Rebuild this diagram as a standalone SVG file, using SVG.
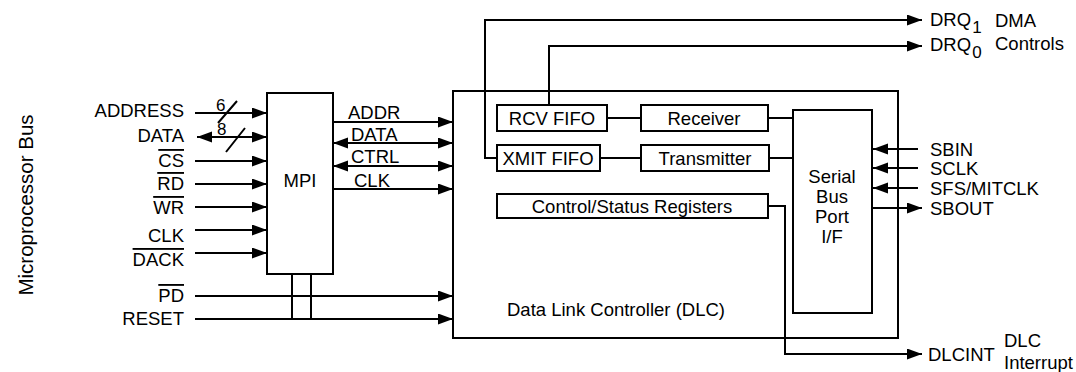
<svg xmlns="http://www.w3.org/2000/svg" width="1076" height="372" viewBox="0 0 1076 372">
<defs>
<marker id="ah" markerUnits="userSpaceOnUse" markerWidth="16" markerHeight="12" refX="15" refY="5.5" orient="auto-start-reverse">
<path d="M0,0 L15,5.5 L0,11 z" fill="#000"/>
</marker>
</defs>
<style>
text{font-family:"Liberation Sans",Arial,sans-serif;font-size:18.5px;fill:#000}
.box{fill:#fff;stroke:#000;stroke-width:2}
.ln{fill:none;stroke:#000;stroke-width:2}
.ar{marker-end:url(#ah)}
.ar2{marker-start:url(#ah);marker-end:url(#ah)}
.e{text-anchor:end}
.m{text-anchor:middle}
.ov{text-decoration:overline}
.sm{font-size:17px}
</style>
<rect width="1076" height="372" fill="#fff"/>

<g id="dlc">
<rect class="box" x="453" y="91" width="445" height="247"/>
<text x="507" y="316">Data Link Controller (DLC)</text>
</g>
<g id="mpi">
<rect class="box" x="267" y="93" width="66" height="181"/>
<text class="m" x="300" y="187">MPI</text>
</g>
<g id="rcvfifo">
<rect class="box" x="497" y="105" width="110" height="26"/>
<text class="m" x="552" y="125">RCV FIFO</text>
</g>
<g id="receiver">
<rect class="box" x="641" y="105" width="127" height="26"/>
<text class="m" x="704" y="125">Receiver</text>
</g>
<g id="xmitfifo">
<rect class="box" x="497" y="145" width="103" height="26"/>
<text class="m" x="548" y="165">XMIT FIFO</text>
</g>
<g id="transmitter">
<rect class="box" x="641" y="145" width="128" height="26"/>
<text class="m" x="705" y="165">Transmitter</text>
</g>
<g id="csr">
<rect class="box" x="497" y="194" width="271" height="24"/>
<text class="m" x="632" y="213">Control/Status Registers</text>
</g>
<g id="sbp">
<rect class="box" x="793" y="110" width="79" height="203"/>
<text class="m" x="832" y="183">Serial</text>
<text class="m" x="832" y="203">Bus</text>
<text class="m" x="832" y="223">Port</text>
<text class="m" x="832" y="243">I/F</text>
</g>

<g id="labels">
<text class="m" transform="rotate(-90 33 205)" x="33" y="205" style="font-size:20.5px">Microprocessor Bus</text>
<text class="e" x="184" y="117">ADDRESS</text>
<text class="e" x="184" y="142">DATA</text>
<text class="e ov" x="184" y="167">CS</text>
<text class="e ov" x="184" y="190">RD</text>
<text class="e ov" x="184" y="214">WR</text>
<text class="e" x="184" y="242">CLK</text>
<text class="e ov" x="184" y="266">DACK</text>
<text class="e ov" x="184" y="302">PD</text>
<text class="e" x="184" y="325">RESET</text>
<text class="sm" x="216" y="111">6</text>
<text class="sm" x="217" y="135">8</text>
<text x="348" y="119">ADDR</text>
<text x="351" y="141">DATA</text>
<text x="351" y="163">CTRL</text>
<text x="354" y="187">CLK</text>
<text x="930" y="26">DRQ<tspan class="sm" dx="1" dy="7">1</tspan></text>
<text x="930" y="51">DRQ<tspan class="sm" dx="1" dy="7">0</tspan></text>
<text x="995" y="27">DMA</text>
<text x="995" y="50">Controls</text>
<text x="930" y="156">SBIN</text>
<text x="930" y="175">SCLK</text>
<text x="930" y="195">SFS/MITCLK</text>
<text x="930" y="215">SBOUT</text>
<text x="928" y="361">DLCINT</text>
<text x="1004" y="347">DLC</text>
<text x="1004" y="369">Interrupt</text>
</g>

<g id="connectors">
<path class="ln ar" d="M195,113 H267"/>
<path class="ln ar2" d="M197,137 H267"/>
<path class="ln ar" d="M195,161 H267"/>
<path class="ln ar" d="M195,184 H267"/>
<path class="ln ar" d="M195,207 H267"/>
<path class="ln ar" d="M195,230 H267"/>
<path class="ln ar" d="M195,253 H267"/>
<path class="ln ar" d="M195,296 H453"/>
<path class="ln ar" d="M195,319 H453"/>
<path class="ln" d="M292,274 V319 M311,274 V319"/>
<path class="ln" d="M218,123 L237,101 M226,152 L245,128"/>
<path class="ln ar" d="M333,122 H453"/>
<path class="ln ar2" d="M333,143 H453"/>
<path class="ln ar2" d="M333,166 H453"/>
<path class="ln ar" d="M333,189 H453"/>
<path class="ln" d="M607,118 H641 M600,158 H641 M768,118 H793 M769,158 H793"/>
<path class="ln ar" d="M497,158 H485 V20 H922"/>
<path class="ln ar" d="M549,105 V46 H922"/>
<path class="ln ar" d="M768,206 H785 V354 H922"/>
<path class="ln ar" d="M918,149 H873"/>
<path class="ln ar" d="M918,168 H873"/>
<path class="ln ar" d="M918,188 H873"/>
<path class="ln ar" d="M872,208 H922"/>
</g>
</svg>
